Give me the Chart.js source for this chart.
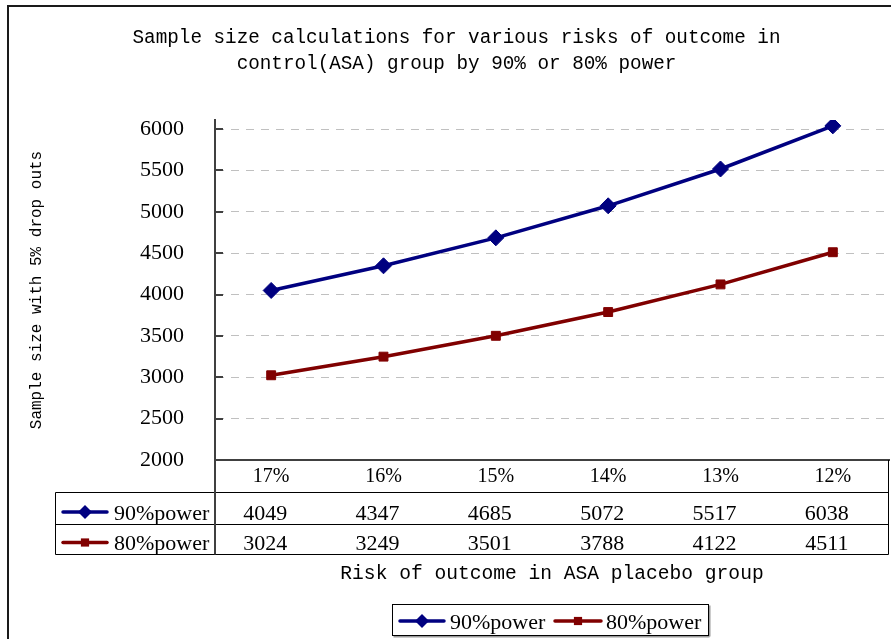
<!DOCTYPE html>
<html><head><meta charset="utf-8">
<script src="https://cdn.jsdelivr.net/npm/chart.js@4"></script>
<style>html,body{margin:0;padding:0;background:#fff;overflow:hidden;}canvas{display:block;}</style>
</head><body>
<canvas id="c" width="891" height="639"></canvas>
<script>
const categories = ['17%', '16%', '15%', '14%', '13%', '12%'];
const power90 = [4049, 4347, 4685, 5072, 5517, 6038];
const power80 = [3024, 3249, 3501, 3788, 4122, 4511];
const seriesNames = ['90%power', '80%power'];
const yTickValues = [2000, 2500, 3000, 3500, 4000, 4500, 5000, 5500, 6000];
const titleLines = ['Sample size calculations for various risks of outcome in', 'control(ASA) group by 90% or 80% power'];
const yTitle = 'Sample size with 5% drop outs';
const xTitle = 'Risk of outcome in ASA placebo group';

const MONO = '"Liberation Mono", "DejaVu Sans Mono", monospace';
const SERIF = '"Liberation Serif", "DejaVu Serif", serif';

function drawMarker(ctx, style, cx, cy, r, color) {
  ctx.fillStyle = color;
  ctx.beginPath();
  if (style === 'rectRot') {
    ctx.moveTo(cx, cy - r); ctx.lineTo(cx + r, cy); ctx.lineTo(cx, cy + r); ctx.lineTo(cx - r, cy);
  } else {
    const s = r * Math.SQRT1_2;
    ctx.rect(cx - s, cy - s, 2 * s, 2 * s);
  }
  ctx.closePath();
  ctx.fill();
}
function drawKey(ctx, ds, x1, x2, y, r) {
  ctx.save();
  ctx.strokeStyle = ds.borderColor;
  ctx.lineWidth = ds.borderWidth;
  ctx.lineCap = 'round';
  ctx.beginPath(); ctx.moveTo(x1, y); ctx.lineTo(x2, y); ctx.stroke();
  drawMarker(ctx, ds.pointStyle, (x1 + x2) / 2, y, r, ds.borderColor);
  ctx.restore();
}

const extras = {
  id: 'extras',
  beforeDraw(chart) {
    const ctx = chart.ctx;
    ctx.save();
    ctx.fillStyle = '#fff';
    ctx.fillRect(0, 0, chart.width, chart.height);
    ctx.strokeStyle = '#1a1a1a';
    ctx.lineWidth = 2;
    ctx.beginPath();
    ctx.moveTo(8, chart.height + 5); ctx.lineTo(8, 6); ctx.lineTo(chart.width + 5, 6);
    ctx.stroke();
    ctx.restore();
  },
  afterDraw(chart) {
    const ctx = chart.ctx;
    const ca = chart.chartArea;
    const xs = chart.scales.x, ys = chart.scales.y;
    ctx.save();
    // inward tick marks on y axis
    ctx.strokeStyle = '#404040';
    ctx.lineWidth = 2;
    ys.ticks.forEach(t => {
      const py = Math.round(ys.getPixelForValue(t.value));
      ctx.beginPath(); ctx.moveTo(ca.left, py); ctx.lineTo(ca.left + 8, py); ctx.stroke();
    });
    // data table
    const tblLeft = 55.5, hdrBottom = ca.bottom + 32.5, row1Bottom = ca.bottom + 64.5, row2Bottom = ca.bottom + 94.5;
    const right = ca.right - 0.5;
    ctx.strokeStyle = '#000';
    ctx.lineWidth = 1;
    ctx.beginPath();
    ctx.moveTo(tblLeft, hdrBottom); ctx.lineTo(right, hdrBottom);
    ctx.moveTo(tblLeft, row1Bottom); ctx.lineTo(right, row1Bottom);
    ctx.moveTo(tblLeft, row2Bottom); ctx.lineTo(right, row2Bottom);
    ctx.moveTo(tblLeft, hdrBottom); ctx.lineTo(tblLeft, row2Bottom);
    ctx.moveTo(right, ca.bottom); ctx.lineTo(right, row2Bottom);
    ctx.stroke();
    ctx.strokeStyle = '#404040';
    ctx.lineWidth = 2;
    ctx.beginPath(); ctx.moveTo(ca.left, ca.bottom); ctx.lineTo(ca.left, row2Bottom); ctx.stroke();

    const rowsBase = [ca.bottom + 59.5, ca.bottom + 90];
    const keyY = [ca.bottom + 52, ca.bottom + 82.5];
    ctx.font = '22px ' + SERIF;
    ctx.fillStyle = '#000';
    ctx.textBaseline = 'alphabetic';
    chart.data.datasets.forEach((ds, di) => {
      drawKey(ctx, ds, 63, 107, keyY[di], ds.pointStyle === 'rectRot' ? 7 : 5.8);
      ctx.fillStyle = '#000';
      ctx.textAlign = 'left';
      ctx.fillText(ds.label, 114, rowsBase[di]);
      ctx.textAlign = 'center';
      ds.data.forEach((v, i) => {
        ctx.fillText(String(v), xs.getPixelForValue(i) - 6, rowsBase[di]);
      });
    });

    // legend box
    const lx = 392.5, ly = 604.5, lw = 316, lh = 31;
    ctx.fillStyle = '#9a9a9a';
    ctx.fillRect(lx + 1, ly + lh + 0.5, lw, 1.5);
    ctx.fillRect(lx + lw + 0.5, ly + 1, 1.5, lh);
    ctx.strokeStyle = '#000';
    ctx.lineWidth = 1;
    ctx.strokeRect(lx, ly, lw, lh);
    const items = [{k1: 400, k2: 444, tx: 450}, {k1: 555, k2: 601, tx: 606}];
    chart.data.datasets.forEach((ds, di) => {
      const it = items[di];
      drawKey(ctx, ds, it.k1, it.k2, 621, ds.pointStyle === 'rectRot' ? 7 : 5.8);
      ctx.fillStyle = '#000';
      ctx.textAlign = 'left';
      ctx.font = '22px ' + SERIF;
      ctx.fillText(ds.label, it.tx, 628.5);
    });
    ctx.restore();
  }
};

new Chart(document.getElementById('c'), {
  type: 'line',
  data: {
    labels: categories,
    datasets: [
      { label: seriesNames[0], data: power90, borderColor: '#000080', backgroundColor: '#000080',
        borderWidth: 3.5, pointStyle: 'rectRot', pointRadius: 8, pointHoverRadius: 8,
        pointBackgroundColor: '#000080', pointBorderColor: '#000080', pointBorderWidth: 1, tension: 0 },
      { label: seriesNames[1], data: power80, borderColor: '#800000', backgroundColor: '#800000',
        borderWidth: 3.5, pointStyle: 'rect', pointRadius: 6.3, pointHoverRadius: 6.3,
        pointBackgroundColor: '#800000', pointBorderColor: '#800000', pointBorderWidth: 1, tension: 0 }
    ]
  },
  options: {
    responsive: false,
    animation: false,
    devicePixelRatio: 1,
    layout: { autoPadding: false, padding: { left: 24, right: 2, top: 0, bottom: 0 } },
    plugins: {
      legend: { display: false },
      tooltip: { enabled: false },
      title: {
        display: true,
        text: titleLines,
        color: '#000',
        font: { family: MONO, size: 19.3, weight: 'normal', lineHeight: 26 / 19.3 },
        padding: { top: 25, bottom: 43 }
      }
    },
    scales: {
      x: {
        offset: true,
        grid: { display: false, drawTicks: false },
        border: { display: true, color: '#404040', width: 2 },
        ticks: { color: '#000', font: { family: SERIF, size: 20 }, padding: 5, maxRotation: 0, autoSkip: false },
        title: { display: true, text: xTitle, color: '#000', font: { family: MONO, size: 19.6 }, padding: { top: 0, bottom: 53.5 } },
        afterFit(s) { s.height = 179; s.paddingLeft = 0; s.paddingRight = 0; }
      },
      y: {
        min: yTickValues[0],
        max: 6109,
        afterBuildTicks(s) { s.ticks = yTickValues.map(v => ({ value: v })); },
        grid: { color: '#c0c0c0', lineWidth: 1, drawTicks: false },
        border: { display: true, color: '#404040', width: 2, dash: [8, 7] },
        ticks: { color: '#000', font: { family: SERIF, size: 22 }, padding: 31, callback: v => String(v) },
        title: { display: true, text: yTitle, color: '#000', font: { family: MONO, size: 16 }, padding: { top: 3.4, bottom: 0 } },
        afterFit(s) { s.width = 191; s.paddingTop = 0; s.paddingBottom = 0; }
      }
    }
  },
  plugins: [extras]
});
</script>
</body></html>
